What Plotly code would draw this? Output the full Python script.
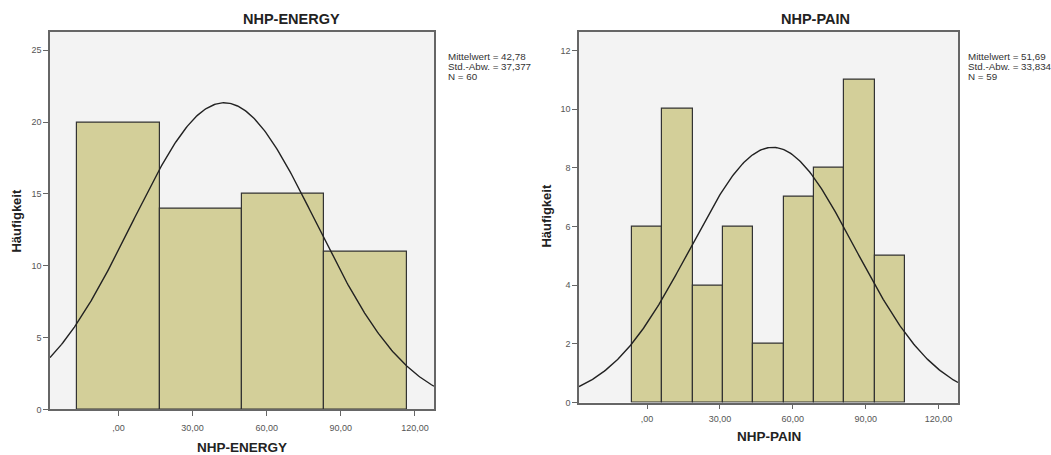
import numpy as np
import plotly.graph_objects as go

# ---- data ----
energy_centers = [0.0, 33.333, 66.667, 100.0]
energy_counts = [20, 14, 15, 11]
energy_width = 33.333
energy_mean, energy_sd, energy_n = 42.78, 37.377, 60

pain_centers = [0.0, 12.5, 25.0, 37.5, 50.0, 62.5, 75.0, 87.5, 100.0]
pain_counts = [6, 10, 4, 6, 2, 7, 8, 11, 5]
pain_width = 12.5
pain_mean, pain_sd, pain_n = 51.69, 33.834, 59

x_tickvals = [0, 30, 60, 90, 120]
x_ticktext = [",00", "30,00", "60,00", "90,00", "120,00"]
energy_yticks = [0, 5, 10, 15, 20, 25]
pain_yticks = [0, 2, 4, 6, 8, 10, 12]

W, H = 1051, 455
BAR = "#d3cf99"
FONT = "Liberation Sans, Arial, sans-serif"


def normal_curve(mean, sd, n, width, lo, hi):
    xs = np.linspace(lo, hi, 300)
    ys = n * width / (sd * np.sqrt(2 * np.pi)) * np.exp(-0.5 * ((xs - mean) / sd) ** 2)
    return xs, ys


fig = go.Figure()

fig.add_trace(go.Bar(x=energy_centers, y=energy_counts, width=energy_width,
                     marker=dict(color=BAR, line=dict(color="#333333", width=1.2)),
                     xaxis="x", yaxis="y", showlegend=False))
ex, ey = normal_curve(energy_mean, energy_sd, energy_n, energy_width, -27.7, 127.7)
fig.add_trace(go.Scatter(x=ex, y=ey, mode="lines", line=dict(color="#222222", width=1.4),
                         xaxis="x", yaxis="y", showlegend=False))

fig.add_trace(go.Bar(x=pain_centers, y=pain_counts, width=pain_width,
                     marker=dict(color=BAR, line=dict(color="#333333", width=1.2)),
                     xaxis="x2", yaxis="y2", showlegend=False))
px_, py_ = normal_curve(pain_mean, pain_sd, pain_n, pain_width, -28.0, 128.0)
fig.add_trace(go.Scatter(x=px_, y=py_, mode="lines", line=dict(color="#222222", width=1.4),
                         xaxis="x2", yaxis="y2", showlegend=False))


def ax_common():
    return dict(showline=True, mirror=True, linecolor="#666666", linewidth=1.5,
                ticks="outside", ticklen=5, tickcolor="#666666", showgrid=False,
                zeroline=False, tickfont=dict(family=FONT, size=9, color="#555555"))


fig.update_layout(
    width=W, height=H,
    margin=dict(l=0, r=0, t=0, b=0),
    paper_bgcolor="white",
    bargap=0,
    font=dict(family=FONT),
    xaxis=dict(domain=[50 / W, 434 / W], range=[-27.7, 127.7], anchor="y",
               tickvals=x_tickvals, ticktext=x_ticktext, ticklabelstandoff=4, **ax_common()),
    yaxis=dict(domain=[1 - 414 / H, 1 - 32 / H], range=[0, 26.3], anchor="x",
               tickvals=energy_yticks, **ax_common()),
    xaxis2=dict(domain=[579 / W, 958 / W], range=[-28.0, 128.0], anchor="y2",
                tickvals=x_tickvals, ticktext=x_ticktext, ticklabelstandoff=2, **ax_common()),
    yaxis2=dict(domain=[1 - 407 / H, 1 - 32 / H], range=[0, 12.64], anchor="x2",
                tickvals=pain_yticks, **ax_common()),
    plot_bgcolor="#f3f3f3",
)

annots = []


def txt(text, x, y, size, angle=0, xanchor="center", bold=True, color="#222222"):
    annots.append(dict(text=f"<b>{text}</b>" if bold else text, x=x / W, y=1 - y / H,
                       xref="paper", yref="paper", showarrow=False, textangle=angle,
                       font=dict(size=size, color=color), xanchor=xanchor, yanchor="middle"))


# titles
txt("NHP-ENERGY", 291, 19, 14.5)
txt("NHP-PAIN", 815, 19, 14.5)
# x axis titles
txt("NHP-ENERGY", 242, 452, 13.5)
txt("NHP-PAIN", 769, 441, 13.5)
# y axis titles
txt("Häufigkeit", 17, 223, 13, angle=-90)
txt("Häufigkeit", 547, 218, 13, angle=-90)


def de_num(v, nd):
    return f"{v:.{nd}f}".replace(".", ",")


# stats boxes
def stats_lines(mean, sd, n):
    return [f"Mittelwert = {de_num(mean, 2)}",
            f"Std.-Abw. = {de_num(sd, 3)}",
            f"N = {n}"]


for i, line in enumerate(stats_lines(energy_mean, energy_sd, energy_n)):
    txt(line, 446, 57 + 10 * i, 9.8, xanchor="left", bold=False, color="#333333")
for i, line in enumerate(stats_lines(pain_mean, pain_sd, pain_n)):
    txt(line, 966, 57.5 + 10 * i, 9.8, xanchor="left", bold=False, color="#333333")

fig.update_layout(annotations=annots)

fig.write_html("out.html")
